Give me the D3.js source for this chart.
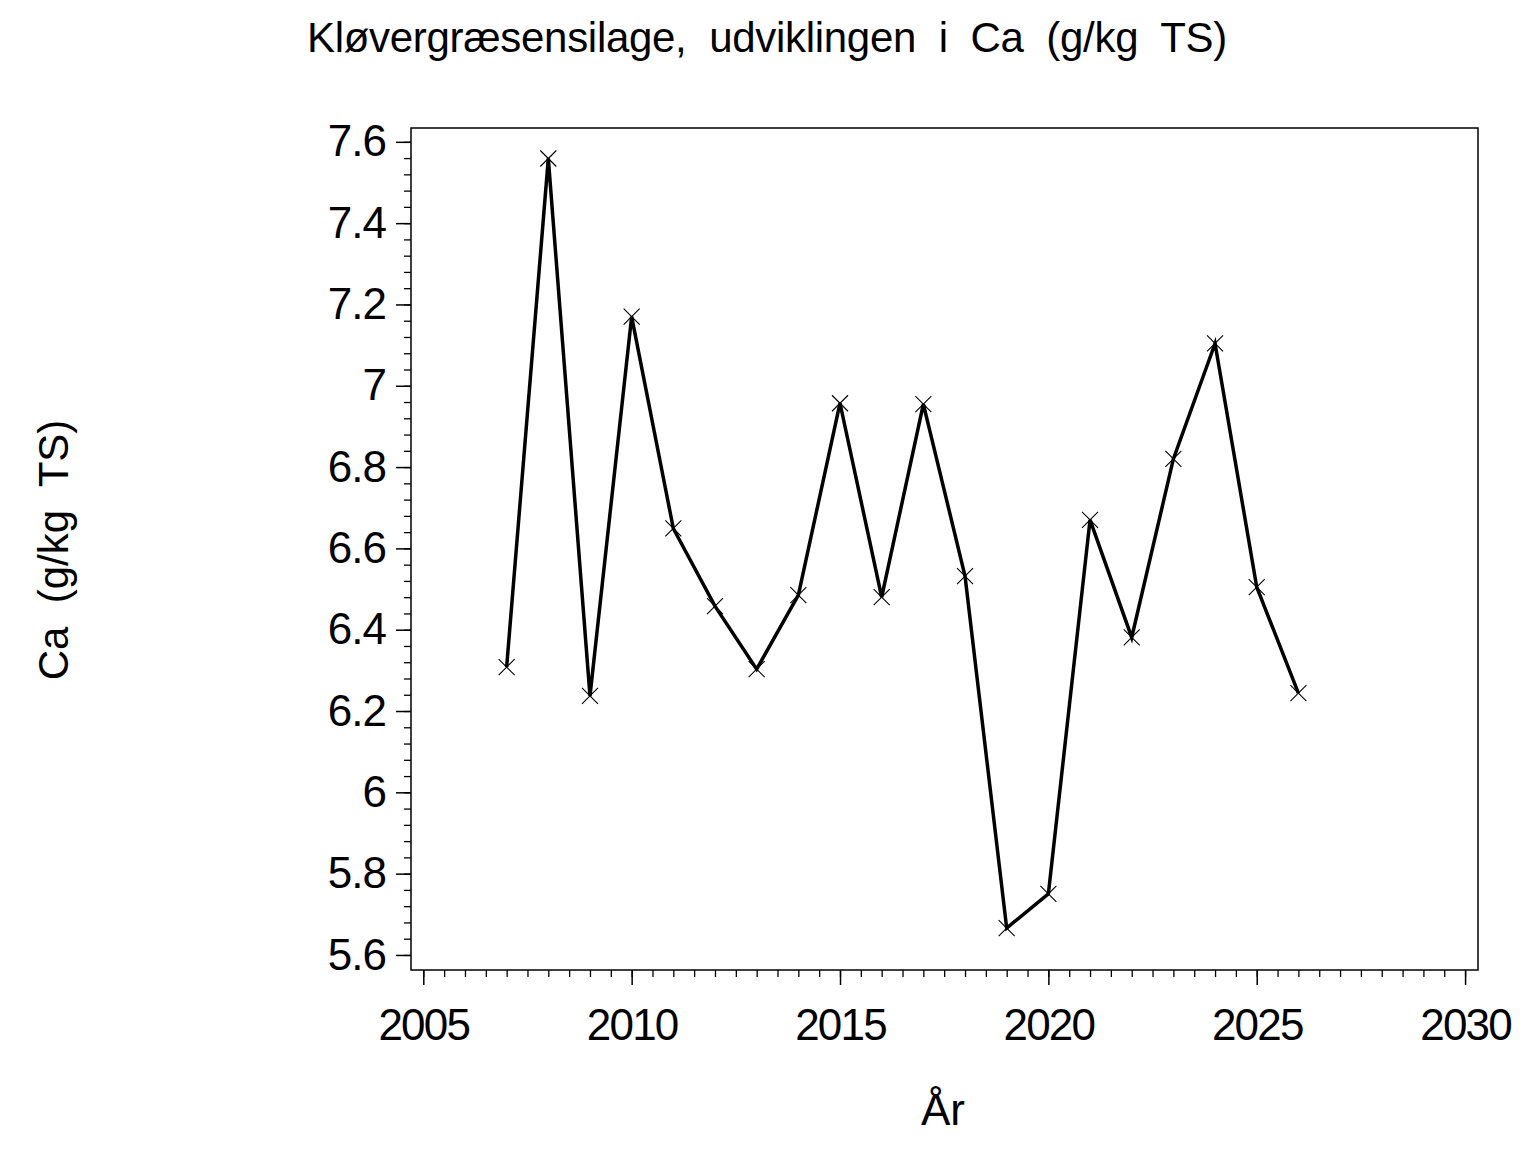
<!DOCTYPE html>
<html>
<head>
<meta charset="utf-8">
<script src="https://cdn.jsdelivr.net/npm/d3@7"></script>
<style>
  body { margin: 0; background: #fff; }
  text { font-family: "Liberation Sans", Arial, sans-serif; fill: #000; }
</style>
</head>
<body>
<script>
const years = [2007, 2008, 2009, 2010, 2011, 2012, 2013, 2014, 2015, 2016,
               2017, 2018, 2019, 2020, 2021, 2022, 2023, 2024, 2025, 2026];
const caValues = [6.308, 7.559, 6.237, 7.170, 6.649, 6.458, 6.303, 6.485, 6.957, 6.480,
                  6.955, 6.532, 5.666, 5.750, 6.670, 6.381, 6.820, 7.104, 6.505, 6.244];

const xTicks = [2005, 2010, 2015, 2020, 2025, 2030];
const yTicks = [5.6, 5.8, 6.0, 6.2, 6.4, 6.6, 6.8, 7.0, 7.2, 7.4, 7.6];
const yTickLabels = ["5.6", "5.8", "6", "6.2", "6.4", "6.6", "6.8", "7", "7.2", "7.4", "7.6"];

const titleText = "Kløvergræsensilage,  udviklingen  i  Ca  (g/kg  TS)";
const xLabel = "År";
const yLabel = "Ca  (g/kg  TS)";

const width = 1536, height = 1152;
const frame = { left: 411, right: 1478, top: 128, bottom: 970 };

const svg = d3.select('body')
    .append('svg')
    .attr('width', width)
    .attr('height', height);

const x = d3.scaleLinear()
    .domain([2004.705, 2030.31])
    .range([frame.left, frame.right]);
const y = d3.scaleLinear()
    .domain([5.563, 7.634])
    .range([frame.bottom, frame.top]);

// minor ticks
const xMinor = d3.range(2005, 2030.01, 0.5);
const yMinor = d3.range(5.6, 7.601, 0.04);

svg.append('g')
    .attr('transform', `translate(0, ${frame.bottom})`)
    .call(d3.axisBottom(x).tickValues(xMinor).tickSize(7).tickFormat(''))
    .call(g => g.select('.domain').remove())
    .call(g => g.selectAll('line').attr('stroke-width', 1.3));

svg.append('g')
    .attr('transform', `translate(${frame.left}, 0)`)
    .call(d3.axisLeft(y).tickValues(yMinor).tickSize(7).tickFormat(''))
    .call(g => g.select('.domain').remove())
    .call(g => g.selectAll('line').attr('stroke-width', 1.3));

// major ticks
const xAxis = d3.axisBottom(x)
    .tickValues(xTicks)
    .tickSize(15)
    .tickPadding(24)
    .tickFormat(d3.format('d'));
svg.append('g')
    .attr('transform', `translate(0, ${frame.bottom})`)
    .call(xAxis)
    .call(g => g.select('.domain').remove())
    .call(g => g.selectAll('line').attr('stroke-width', 1.5))
    .call(g => g.selectAll('text')
        .style('font-size', '44px')
        .style('font-family', '"Liberation Sans", Arial, sans-serif')
        .attr('letter-spacing', '-1.8'));

const yAxis = d3.axisLeft(y)
    .tickValues(yTicks)
    .tickSize(15)
    .tickPadding(10)
    .tickFormat((d, i) => yTickLabels[i]);
svg.append('g')
    .attr('transform', `translate(${frame.left}, 0)`)
    .call(yAxis)
    .call(g => g.select('.domain').remove())
    .call(g => g.selectAll('line').attr('stroke-width', 1.5))
    .call(g => g.selectAll('text')
        .style('font-size', '44px')
        .style('font-family', '"Liberation Sans", Arial, sans-serif')
        .attr('letter-spacing', '-1'));

// plot frame
svg.append('rect')
    .attr('x', frame.left)
    .attr('y', frame.top)
    .attr('width', frame.right - frame.left)
    .attr('height', frame.bottom - frame.top)
    .attr('fill', 'none')
    .attr('stroke', '#000')
    .attr('stroke-width', 1.5);

const data = years.map((yr, i) => ({ year: yr, value: caValues[i] }));

const line = d3.line()
    .x(d => x(d.year))
    .y(d => y(d.value));

svg.append('path')
    .datum(data)
    .attr('d', line)
    .attr('fill', 'none')
    .attr('stroke', '#000')
    .attr('stroke-width', 3.5)
    .attr('stroke-linejoin', 'miter');

// x markers
const m = 8;
svg.append('g')
    .selectAll('path')
    .data(data)
    .enter()
    .append('path')
    .attr('d', d => {
        const cx = x(d.year), cy = y(d.value);
        return `M${cx - m},${cy - m}L${cx + m},${cy + m}M${cx - m},${cy + m}L${cx + m},${cy - m}`;
    })
    .attr('stroke', '#000')
    .attr('stroke-width', 1.1)
    .attr('fill', 'none');

// title
svg.append('text')
    .attr('x', 767)
    .attr('y', 52)
    .attr('text-anchor', 'middle')
    .style('font-size', '42px')
    .style('white-space', 'pre')
    .attr('xml:space', 'preserve')
    .attr('letter-spacing', '-0.3')
    .text(titleText);

// axis labels
svg.append('text')
    .attr('x', 943)
    .attr('y', 1125)
    .attr('text-anchor', 'middle')
    .style('font-size', '44px')
    .text(xLabel);

svg.append('text')
    .attr('transform', `translate(68, 550) rotate(-90)`)
    .attr('text-anchor', 'middle')
    .style('font-size', '42px')
    .style('white-space', 'pre')
    .attr('xml:space', 'preserve')
    .text(yLabel);
</script>
</body>
</html>
